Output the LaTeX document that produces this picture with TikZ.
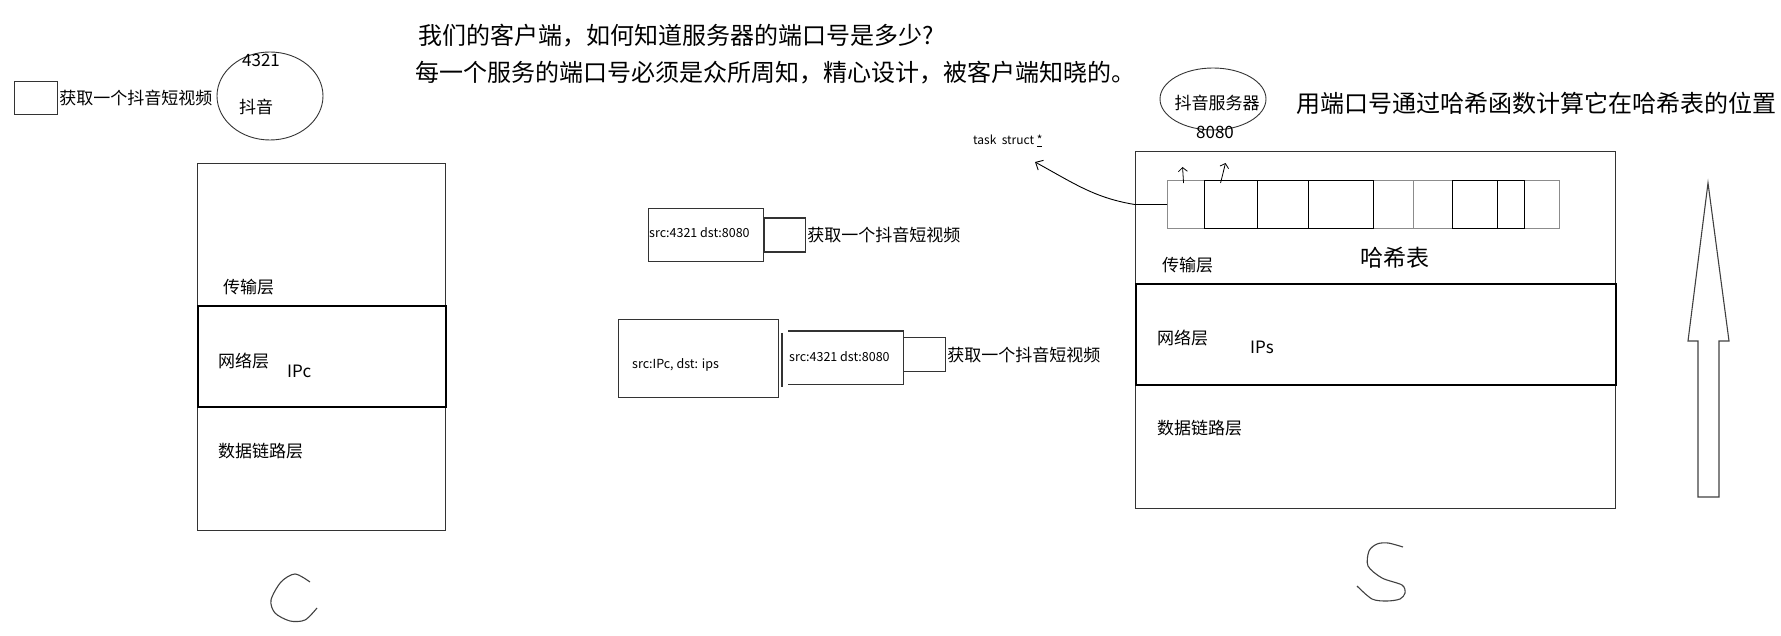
\documentclass[tikz,border=0pt]{standalone}
\usepackage{fontspec}
\setmainfont{Noto Sans CJK SC}
\usetikzlibrary{arrows.meta,shapes.geometric,positioning,calc}

\begin{document}
\begin{tikzpicture}[x=1pt,y=-1pt,>=Stealth,
  frame/.style={draw=black!80,line width=1.1pt,anchor=north west,inner sep=0},
  band/.style={draw=black,line width=1.6pt,anchor=north west,inner sep=0},
  lbl/.style={inner sep=0,anchor=west,font=\fontsize{17}{20}\selectfont},
  big/.style={inner sep=0,anchor=west,font=\fontsize{24}{28}\selectfont},
  pkt/.style={inner sep=0,anchor=west,font=\fontsize{12.5}{15}\selectfont},
  proc/.style={draw=black!80,line width=0.9pt,ellipse,inner sep=0},
  slot/.style={line width=1.1pt,anchor=north west,inner sep=0,minimum height=48pt},
  barb/.style={-{Straight Barb[length=6pt,width=11pt]},line width=0.9pt},
  hand/.style={draw=black!75,line width=1.1pt}]
  \useasboundingbox (0,0) rectangle (1781,636);

  % question on top
  \node[big] (q1) at (418,36) {我们的客户端，如何知道服务器的端口号是多少?};
  \node[big] (q2) at (415,73) {每一个服务的端口号必须是众所周知，精心设计，被客户端知晓的。};

  % client side
  \node[frame,minimum width=43pt,minimum height=33pt] (req) at (14,81) {};
  \node[lbl,right=1pt of req] (reqtxt) {获取一个抖音短视频};
  \node[proc,minimum width=106pt,minimum height=88pt] (app) at (270,96) {};
  \node[lbl,anchor=center] (cport) at (261,60) {4321};
  \node[lbl,anchor=center] (appname) at (256,107) {抖音};

  \node[frame,minimum width=248pt,minimum height=367pt] (cstack) at (197,163) {};
  \node[band,minimum width=248pt,minimum height=101pt] (cnet) at (197,305) {};
  \node[lbl] (ctrans) at (223,287) {传输层};
  \node[lbl] (cnettxt) at (218,361) {网络层};
  \node[lbl] (cip) at (287,371) {IPc};
  \node[lbl] (clink) at (218,451) {数据链路层};
  \draw[hand] plot[smooth] coordinates {(310,582) (295,574) (281,582) (271,600) (275,613) (290,621) (305,620) (317,608)};

  % packets in the middle
  \node[frame,minimum width=115pt,minimum height=53pt] (seg1) at (648,208) {};
  \node[pkt] at (649,233) {src:4321 dst:8080};
  \node[frame,right=0pt of seg1,minimum width=41pt,minimum height=34pt] (body1) {};
  \node[lbl,right=1pt of body1] (data1) {获取一个抖音短视频};

  \node[frame,minimum width=160pt,minimum height=78pt] (ipbox) at (618,319) {};
  \node[pkt] at (632,365) {src:IPc, dst: ips};
  \node[inner sep=0,anchor=north west,minimum width=115pt,minimum height=53pt] (seg2) at (788,331) {};
  \draw[draw=black!80,line width=1.1pt] (seg2.north west) -- (seg2.north east) -- (seg2.south east) -- (seg2.south west);
  \draw[draw=black!80,line width=1.1pt] (782,333) -- (782,387);
  \node[pkt] at (789,357) {src:4321 dst:8080};
  \node[frame,minimum width=42pt,minimum height=34pt] (body2) at (903,337) {};
  \node[lbl,right=1pt of body2] (data2) {获取一个抖音短视频};

  % server side
  \node[proc,minimum width=106pt,minimum height=62pt] (srv) at (1213,99) {};
  \node[lbl,anchor=center] (srvname) at (1217,103) {抖音服务器};
  \node[lbl,anchor=center] (sport) at (1215,132) {8080};
  \node[big] (hint) at (1296,103) {用端口号通过哈希函数计算它在哈希表的位置};
  \node[pkt,font=\fontsize{12}{14}\selectfont] (ts) at (973,141) {task\ \ struct \underline{*}};
  \coordinate (tsp) at (1035,162);

  \node[frame,minimum width=480pt,minimum height=357pt] (sstack) at (1135,151) {};
  \node[band,minimum width=480pt,minimum height=101pt] (snet) at (1135,283) {};
  \foreach \n/\a/\b/\c in {0/1167/1204/black!45,4/1373/1413/black!45,5/1413/1452/black!45,8/1524/1559/black!45,
      1/1204/1257/black,2/1257/1308/black,3/1308/1373/black,6/1452/1497/black,7/1497/1524/black}{
    \pgfmathsetmacro\w{\b-\a}
    \node[slot,draw=\c,minimum width=\w pt] (slot\n) at (\a,180) {};
  }
  \draw[barb] (slot0.west) -- ++(-32,0) .. controls (1095,198) and (1075,184) .. (tsp);
  \draw[-{Straight Barb[length=4pt,width=9pt]},line width=0.8pt] ([xshift=-2.5pt,yshift=-3pt]slot0.north) -- ++(-1,-16);
  \draw[-{Straight Barb[length=4pt,width=9pt]},line width=0.8pt] ([xshift=-10.5pt,yshift=-3pt]slot1.north) .. controls ++(2,-10) .. ++(5,-20);

  \node[lbl] (strans) at (1162,265) {传输层};
  \node[inner sep=0,font=\fontsize{23}{26}\selectfont] (hash) at (1395,258) {哈希表};
  \node[lbl] (snettxt) at (1157,338) {网络层};
  \node[lbl] (sip) at (1250,347) {IPs};
  \node[lbl] (slink) at (1157,428) {数据链路层};
  \draw[hand] plot[smooth] coordinates {(1403,547) (1388,543) (1377,544) (1369,551) (1368,566) (1382,578) (1402,585) (1405,593) (1400,599) (1387,601) (1372,599) (1357,586)};

  % upward arrow
  \draw[draw=black!75,line width=1.1pt] (1698,497) -- (1698,341) -- (1688,341) -- (1708,183) -- (1729,341) -- (1719,341) -- (1719,497) -- cycle;
\end{tikzpicture}
\end{document}
